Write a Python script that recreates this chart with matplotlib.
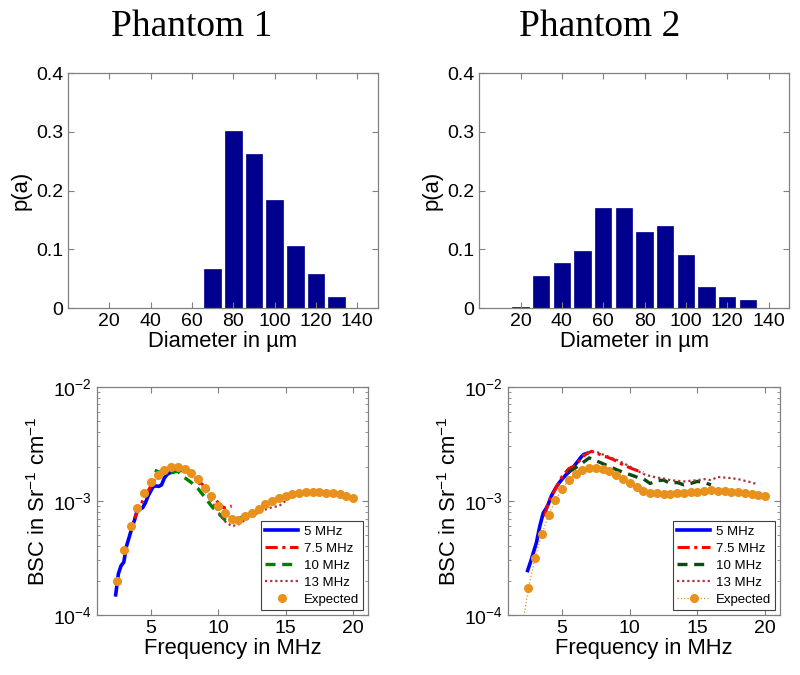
import numpy as np
import matplotlib
matplotlib.use('Agg')
from matplotlib import pyplot as plt
from matplotlib.ticker import FixedLocator, FormatStrFormatter, LogLocator, NullFormatter

plt.rcParams['font.family'] = ['Liberation Sans', 'DejaVu Sans']
plt.rcParams['mathtext.fontset'] = 'custom'
plt.rcParams['mathtext.rm'] = 'Liberation Sans'
plt.rcParams['mathtext.it'] = 'Liberation Sans:italic'
plt.rcParams['mathtext.default'] = 'regular'

# size distributions (diameter in um)
diam1 = [70, 80, 90, 100, 110, 120, 130]
p1 = [0.067, 0.301, 0.262, 0.184, 0.106, 0.058, 0.019]
diam2 = [20, 30, 40, 50, 60, 70, 80, 90, 100, 110, 120, 130]
p2 = [0.002, 0.054, 0.077, 0.097, 0.171, 0.171, 0.13, 0.14, 0.09, 0.036, 0.019, 0.013]

# phantom 1 backscatter
f5_1 = [2.4, 2.6, 2.8, 3.0, 3.2, 3.4, 3.6, 3.8, 4.0, 4.2, 4.4, 4.6, 4.8, 5.0, 5.2, 5.4, 5.6, 5.8, 6.0, 6.2, 6.4, 6.6, 6.8, 7.0]
bsc5_1 = [1.5e-4, 2.3e-4, 2.7e-4, 2.9e-4, 4.0e-4, 4.8e-4, 5.8e-4, 6.8e-4, 8.3e-4, 8.5e-4, 8.7e-4, 9.6e-4, 1.1e-3, 1.22e-3,
          1.34e-3, 1.35e-3, 1.34e-3, 1.38e-3, 1.58e-3, 1.70e-3, 1.76e-3, 1.80e-3, 1.86e-3, 1.90e-3]
f75_1 = [3.8, 4.0, 4.3, 4.6, 5.0, 5.3, 5.6, 6.0, 6.4, 6.8, 7.2, 7.6, 8.0, 8.4, 8.8, 9.2, 9.6, 10.0, 10.4, 10.8, 11.0]
bsc75_1 = [7.0e-4, 8.0e-4, 9.5e-4, 1.1e-3, 1.35e-3, 1.55e-3, 1.75e-3, 1.85e-3, 1.9e-3, 1.88e-3, 1.85e-3, 1.8e-3, 1.7e-3,
           1.55e-3, 1.4e-3, 1.25e-3, 1.1e-3, 9.6e-4, 8.7e-4, 8.9e-4, 9.0e-4]
f10_1 = [5.3, 6.0, 6.5, 7.0, 7.5, 8.0, 8.5, 9.0, 9.5, 10.0, 10.5, 11.0, 11.5, 12.0, 12.5, 13.0, 13.5, 14.0, 14.5, 15.0, 15.5]
bsc10_1 = [1.85e-3, 1.72e-3, 1.76e-3, 1.82e-3, 1.60e-3, 1.45e-3, 1.28e-3, 1.08e-3, 9.0e-4, 7.8e-4, 6.8e-4, 6.6e-4, 7.0e-4,
           7.4e-4, 7.7e-4, 8.3e-4, 9.2e-4, 1.0e-3, 1.05e-3, 1.12e-3, 1.2e-3]
f13_1 = [8.0, 8.5, 9.0, 9.5, 10.0, 10.5, 11.0, 11.5, 12.0, 12.5, 13.0, 13.5, 14.0, 14.5, 15.0, 15.5, 16.0]
bsc13_1 = [1.65e-3, 1.45e-3, 1.22e-3, 1.0e-3, 8.0e-4, 6.6e-4, 6.0e-4, 6.2e-4, 6.8e-4, 7.3e-4, 7.9e-4, 8.4e-4, 8.8e-4,
           9.0e-4, 1.0e-3, 1.1e-3, 1.18e-3]
fexp_1 = [2.5, 3.0, 3.5, 4.0, 4.5, 5.0, 5.5, 6.0, 6.5, 7.0, 7.5, 8.0, 8.5, 9.0, 9.5, 10.0, 10.5, 11.0, 11.5, 12.0,
          12.5, 13.0, 13.5, 14.0, 14.5, 15.0, 15.5, 16.0, 16.5, 17.0, 17.5, 18.0, 18.5, 19.0, 19.5, 20.0]
exp_1 = [2.0e-4, 3.7e-4, 6.0e-4, 8.7e-4, 1.16e-3, 1.45e-3, 1.70e-3, 1.88e-3, 1.99e-3, 2.0e-3, 1.92e-3, 1.76e-3,
         1.54e-3, 1.30e-3, 1.10e-3, 9.1e-4, 7.85e-4, 7.0e-4, 6.85e-4, 7.3e-4, 7.85e-4, 8.5e-4, 9.3e-4, 1.0e-3,
         1.06e-3, 1.11e-3, 1.15e-3, 1.17e-3, 1.19e-3, 1.2e-3, 1.2e-3, 1.18e-3, 1.16e-3, 1.14e-3, 1.10e-3, 1.05e-3]

# phantom 2 backscatter
f5_2 = [2.45, 2.7, 2.9, 3.1, 3.35, 3.6, 3.85, 4.0, 4.2, 4.4, 4.6, 4.8, 5.0, 5.3, 5.7, 6.0, 6.2, 6.4, 6.6, 6.8]
bsc5_2 = [2.45e-4, 3.0e-4, 3.6e-4, 4.3e-4, 6.0e-4, 7.8e-4, 8.7e-4, 9.5e-4, 1.1e-3, 1.22e-3, 1.34e-3, 1.45e-3, 1.55e-3,
          1.70e-3, 1.88e-3, 2.1e-3, 2.25e-3, 2.42e-3, 2.55e-3, 2.6e-3]
f75_2 = [3.7, 4.0, 4.5, 5.0, 5.5, 6.0, 6.4, 6.8, 7.2, 7.6, 8.0, 8.4, 8.8, 9.2, 9.6, 10.0, 10.5, 11.0]
bsc75_2 = [7.3e-4, 9.9e-4, 1.27e-3, 1.64e-3, 1.92e-3, 2.05e-3, 2.35e-3, 2.6e-3, 2.72e-3, 2.6e-3, 2.5e-3, 2.4e-3, 2.3e-3,
           2.15e-3, 2.05e-3, 1.95e-3, 1.85e-3, 1.78e-3]
f10_2 = [5.5, 6.0, 6.5, 7.0, 7.5, 8.0, 8.5, 9.0, 9.5, 10.0, 10.5, 11.0, 11.5, 12.0, 12.5, 13.0, 13.5, 14.0, 14.5, 15.0, 15.5, 16.0]
bsc10_2 = [1.8e-3, 1.95e-3, 2.15e-3, 2.38e-3, 2.25e-3, 2.12e-3, 2.0e-3, 1.88e-3, 1.78e-3, 1.7e-3, 1.62e-3, 1.56e-3,
           1.42e-3, 1.5e-3, 1.52e-3, 1.42e-3, 1.45e-3, 1.38e-3, 1.42e-3, 1.48e-3, 1.45e-3, 1.38e-3]
f13_2 = [6.5, 7.0, 7.5, 8.0, 8.5, 9.0, 9.5, 10.0, 10.5, 11.0, 11.5, 12.0, 12.5, 13.0, 13.5, 14.0, 14.5, 15.0, 15.5, 16.0,
         16.5, 17.0, 17.5, 18.0, 18.5, 19.0, 19.4]
bsc13_2 = [2.5e-3, 2.65e-3, 2.7e-3, 2.55e-3, 2.42e-3, 2.3e-3, 2.15e-3, 2.0e-3, 1.85e-3, 1.72e-3, 1.65e-3, 1.6e-3, 1.57e-3,
           1.52e-3, 1.5e-3, 1.48e-3, 1.5e-3, 1.52e-3, 1.55e-3, 1.52e-3, 1.62e-3, 1.6e-3, 1.58e-3, 1.55e-3, 1.5e-3, 1.45e-3, 1.4e-3]
fexp_2 = [2.0] + fexp_1
exp_2 = [7e-5, 1.71e-4, 3.13e-4, 5.1e-4, 7.5e-4, 1.01e-3, 1.28e-3, 1.53e-3, 1.73e-3, 1.88e-3, 1.95e-3, 1.95e-3, 1.91e-3,
         1.81e-3, 1.69e-3, 1.56e-3, 1.43e-3, 1.31e-3, 1.21e-3, 1.17e-3, 1.16e-3, 1.15e-3, 1.15e-3, 1.16e-3, 1.17e-3,
         1.19e-3, 1.2e-3, 1.23e-3, 1.24e-3, 1.23e-3, 1.21e-3, 1.2e-3, 1.19e-3, 1.17e-3, 1.15e-3, 1.12e-3, 1.10e-3]

legend_labels = ['5 MHz', '7.5 MHz', '10 MHz', '13 MHz', 'Expected']

spine_col = '#808080'
tick_fs = 14
lab_fs = 15.8
orange = '#E8911C'

fig = plt.figure(figsize=(8, 6.75), dpi=100)


def style(ax):
    for s in ax.spines.values():
        s.set_color(spine_col)
        s.set_linewidth(0.9)
    ax.tick_params(which='both', direction='in', top=True, right=True, color=spine_col,
                   labelsize=tick_fs, labelcolor='black')
    ax.tick_params(which='major', length=4)
    ax.tick_params(which='minor', length=2)


def hist_panel(rect, d, p):
    ax = fig.add_axes(rect)
    ax.bar(d, p, width=8, color='#00008F', edgecolor='#00008F', linewidth=0.5)
    ax.set_xlim(0, 150)
    ax.set_ylim(0, 0.4)
    ax.xaxis.set_major_locator(FixedLocator([20, 40, 60, 80, 100, 120, 140]))
    ax.yaxis.set_major_locator(FixedLocator([0, 0.1, 0.2, 0.3, 0.4]))
    ax.yaxis.set_major_formatter(FormatStrFormatter('%g'))
    ax.set_xlabel('Diameter in \u00b5m', fontsize=lab_fs, labelpad=1)
    ax.set_ylabel('p(a)', fontsize=lab_fs, labelpad=3)
    style(ax)
    return ax


def bsc_panel(rect, curves, green, exp_line):
    ax = fig.add_axes(rect)
    (f5, b5), (f75, b75), (f10, b10), (f13, b13), (fe, be) = curves
    ax.semilogy(f5, b5, color='#0000FF', lw=2.6, label=legend_labels[0])
    ax.semilogy(f75, b75, color='#FF0000', lw=2.2, ls=(0, (4, 1.5, 1, 1.5)), label=legend_labels[1])
    ax.semilogy(f10, b10, color=green, lw=2.4, ls=(0, (3, 2)), label=legend_labels[2])
    ax.semilogy(f13, b13, color='#A8353A', lw=1.6, ls=(0, (1, 1.3)), label=legend_labels[3])
    ax.semilogy(fe, be, color=orange, marker='o', ms=5.5, mec=orange,
                ls=':' if exp_line else 'none', lw=0.9, label=legend_labels[4])
    ax.set_xlim(1, 21.1)
    ax.set_ylim(1e-4, 1e-2)
    ax.xaxis.set_major_locator(FixedLocator([5, 10, 15, 20]))
    ax.yaxis.set_major_locator(LogLocator(base=10, numticks=5))
    ax.yaxis.set_minor_locator(LogLocator(base=10, subs=np.arange(2, 10), numticks=20))
    ax.yaxis.set_minor_formatter(NullFormatter())
    ax.set_xlabel('Frequency in MHz', fontsize=lab_fs, labelpad=1)
    ax.set_ylabel('BSC in Sr$^{-1}$ cm$^{-1}$', fontsize=lab_fs, labelpad=2)
    style(ax)
    leg = ax.legend(loc='lower right', fontsize=9.5, handlelength=2.5, handletextpad=0.4,
                    labelspacing=0.36, borderpad=0.35, borderaxespad=0.35, fancybox=False, framealpha=1)
    leg.get_frame().set_edgecolor('#404040')
    leg.get_frame().set_linewidth(0.8)
    return ax


hist_panel([0.085, 0.5437, 0.3875, 0.348], diam1, p1)
hist_panel([0.599, 0.5437, 0.3875, 0.348], diam2, p2)

bsc_panel([0.121, 0.089, 0.339, 0.338],
          [(f5_1, bsc5_1), (f75_1, bsc75_1), (f10_1, bsc10_1), (f13_1, bsc13_1), (fexp_1, exp_1)],
          '#008000', False)
bsc_panel([0.635, 0.089, 0.34, 0.338],
          [(f5_2, bsc5_2), (f75_2, bsc75_2), (f10_2, bsc10_2), (f13_2, bsc13_2), (fexp_2, exp_2)],
          '#0B4A12', True)

fig.text(0.24, 0.9467, 'Phantom 1', family='Liberation Serif', fontsize=27, ha='center', va='baseline')
fig.text(0.749, 0.9467, 'Phantom 2', family='Liberation Serif', fontsize=27, ha='center', va='baseline')

plt.savefig('out.png', dpi=100)
